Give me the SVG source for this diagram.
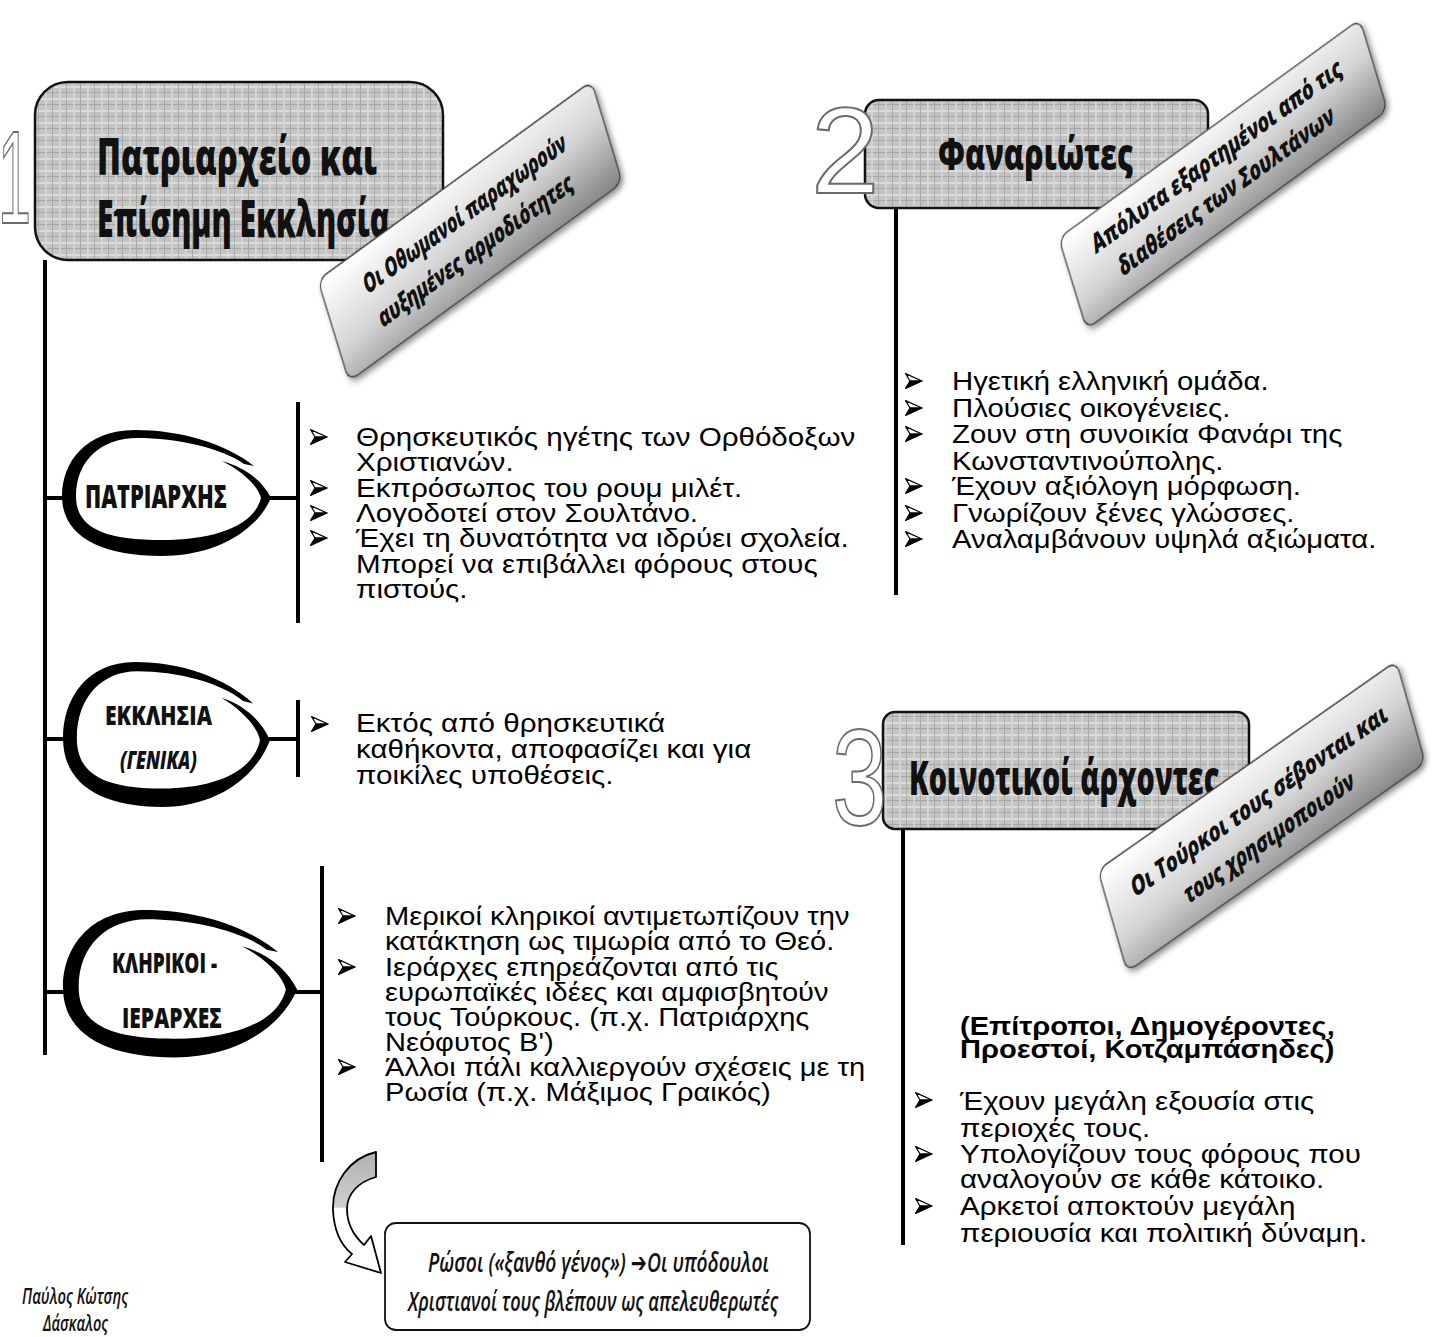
<svg xmlns="http://www.w3.org/2000/svg" width="1444" height="1337" viewBox="0 0 1444 1337">
<defs>
<style>
.hd{font-family:"Open Sans","DejaVu Sans",sans-serif;font-weight:800;fill:#111;}
.num{font-family:"Liberation Sans",Arial,sans-serif;fill:#fff;stroke:#6a6a6a;stroke-width:2;}
.lb{font-family:"Open Sans","DejaVu Sans",sans-serif;font-weight:800;font-size:25px;fill:#111;}
.nd{font-family:"Open Sans","DejaVu Sans",sans-serif;font-weight:800;fill:#111;}
.tx{font-family:"Liberation Sans",Arial,sans-serif;font-size:25.5px;fill:#000;}
.bd{font-weight:700;}
.it{font-family:"Open Sans","DejaVu Sans",sans-serif;font-style:italic;font-weight:600;fill:#111;}
.ln{stroke:#000;stroke-width:4;fill:none;}
.hbox{fill:url(#burlap);stroke:#111;stroke-width:2.5;}
.lbox{fill:url(#lg);stroke:#333;stroke-width:1.2;}
</style>
<pattern id="burlap" width="14" height="12" patternUnits="userSpaceOnUse">
<rect width="14" height="12" fill="#c4c4c4"/>
<rect x="0" y="2" width="14" height="2" fill="#dcdcdc"/>
<rect x="0" y="8" width="14" height="1" fill="#a8a8a8"/>
<rect x="3" y="0" width="2" height="12" fill="#d8d8d8" opacity="0.8"/>
<rect x="10" y="0" width="1" height="12" fill="#a4a4a4" opacity="0.8"/>
</pattern>
<linearGradient id="lg" x1="0.1" y1="0" x2="0.55" y2="1.2">
<stop offset="0" stop-color="#ffffff"/>
<stop offset="0.5" stop-color="#d4d4d4"/>
<stop offset="1" stop-color="#808080"/>
</linearGradient>
<linearGradient id="ag" gradientUnits="userSpaceOnUse" x1="0" y1="1150" x2="0" y2="1280">
<stop offset="0" stop-color="#b0b0b0"/>
<stop offset="0.44" stop-color="#cfcfcf"/>
<stop offset="0.45" stop-color="#ffffff"/>
<stop offset="1" stop-color="#ffffff"/>
</linearGradient>
<filter id="sh" x="-10%" y="-20%" width="130%" height="150%">
<feDropShadow dx="2" dy="4" stdDeviation="3" flood-color="#000" flood-opacity="0.45"/>
</filter>
<path id="blob" d="M192,36 C163,13 118,0 73,0 C23,0 0,33 0,66 C0,106 38,126 100,126 C155,126 195,100 209,68 C200,50 182,37 160,31 C178,40 196,55 199,68 C192,96 152,110 100,110 C42,110 14,98 14,66 C14,30 40,8 75,8 C115,8 160,18 182,34 Z" fill="#000"/>
<g id="bul">
<path d="M0.6,0.6 L17,8 L5,8 Z" fill="#fff" stroke="#000" stroke-width="1.2" stroke-linejoin="round"/>
<path d="M5,8 L17,8 L0.6,15.4 Z" fill="#000" stroke="#000" stroke-width="1.2" stroke-linejoin="round"/>
</g>
</defs>

<rect width="1444" height="1337" fill="#fff"/>

<!-- Section headers -->
<g id="header1">
<rect class="hbox" x="35" y="82" width="408" height="178" rx="33"/>
<text class="hd" x="97" y="175" font-size="52" textLength="280" lengthAdjust="spacingAndGlyphs">Πατριαρχείο και</text>
<text class="hd" x="97" y="237" font-size="52" textLength="293" lengthAdjust="spacingAndGlyphs">Επίσημη Εκκλησία</text>
<text class="num" transform="translate(-2,223) scale(0.45,1)" font-size="132" stroke-width="1.6">1</text>
</g>

<g id="header2">
<rect class="hbox" x="865" y="100" width="343" height="108" rx="14"/>
<text class="hd" x="938" y="170" font-size="44" textLength="195" lengthAdjust="spacingAndGlyphs">Φαναριώτες</text>
<text class="num" transform="translate(811,193)" font-size="123" stroke-width="1.6">2</text>
</g>

<g id="header3">
<rect class="hbox" x="883" y="712" width="366" height="117" rx="12"/>
<text class="hd" x="909" y="795" font-size="48" textLength="310" lengthAdjust="spacingAndGlyphs">Κοινοτικοί άρχοντες</text>
<text class="num" transform="translate(832,825) scale(0.72,1)" font-size="138" stroke-width="1.6">3</text>
</g>

<!-- Connectors -->
<g id="connectors">
<line class="ln" x1="45" y1="260" x2="45" y2="1055"/>
<line class="ln" x1="45" y1="498" x2="64" y2="498"/>
<line class="ln" x1="268" y1="498" x2="298" y2="498"/>
<line class="ln" x1="298" y1="402" x2="298" y2="623"/>
<line class="ln" x1="45" y1="739" x2="64" y2="739"/>
<line class="ln" x1="268" y1="739" x2="298" y2="739"/>
<line class="ln" x1="298" y1="700" x2="298" y2="777"/>
<line class="ln" x1="45" y1="992" x2="64" y2="992"/>
<line class="ln" x1="294" y1="992" x2="322" y2="992"/>
<line class="ln" x1="322" y1="866" x2="322" y2="1162"/>
<line class="ln" x1="896" y1="208" x2="896" y2="595"/>
<line class="ln" x1="903" y1="829" x2="903" y2="1245"/>
<path id="curved-arrow" d="M376,1152 C350,1158 332,1182 333,1210 C334,1232 342,1246 352,1254 L345,1262 L381,1273 L371,1236 L364,1245 C354,1236 347,1224 347,1209 C347,1194 358,1182 376,1177 Z" fill="url(#ag)" stroke="#000" stroke-width="1.8" stroke-linejoin="round"/>
</g>

<!-- Tilted labels -->
<g id="label1" transform="translate(318,280) rotate(-36) skewX(-19)">
<rect class="lbox" x="0" y="0" width="338" height="100" rx="10" filter="url(#sh)"/>
<text class="lb" x="45" y="41" textLength="248" lengthAdjust="spacingAndGlyphs">Οι Οθωμανοί παραχωρούν</text>
<text class="lb" x="50" y="77" textLength="237" lengthAdjust="spacingAndGlyphs">αυξημένες αρμοδιότητες</text>
</g>

<g id="label2" transform="translate(1060,242) rotate(-36) skewX(-19)">
<rect class="lbox" x="0" y="-4" width="372" height="90" rx="10" filter="url(#sh)"/>
<text class="lb" x="32" y="31" textLength="306" lengthAdjust="spacingAndGlyphs">Απόλυτα εξαρτημένοι από τις</text>
<text class="lb" x="52" y="65" textLength="264" lengthAdjust="spacingAndGlyphs">διαθέσεις των Σουλτάνων</text>
</g>

<g id="label3" transform="translate(1098,870) rotate(-35) skewX(-19)">
<rect class="lbox" x="0" y="0" width="364" height="100" rx="10" filter="url(#sh)"/>
<text class="lb" x="29" y="44" textLength="310" lengthAdjust="spacingAndGlyphs">Οι Τούρκοι τους σέβονται και</text>
<text class="lb" x="81" y="80" textLength="205" lengthAdjust="spacingAndGlyphs">τους χρησιμοποιούν</text>
</g>

<!-- Nodes -->
<g id="node-patriarchis">
<use href="#blob" transform="translate(62,430)"/>
<text class="nd" x="85" y="508" font-size="32" textLength="142" lengthAdjust="spacingAndGlyphs">ΠΑΤΡΙΑΡΧΗΣ</text>
</g>

<g id="node-ekklisia">
<use href="#blob" transform="translate(63,662) scale(0.99,1.15)"/>
<text class="nd" x="105" y="725" font-size="26" textLength="107" lengthAdjust="spacingAndGlyphs">ΕΚΚΛΗΣΙΑ</text>
<text class="nd" x="120" y="769" font-size="24" font-style="italic" textLength="77" lengthAdjust="spacingAndGlyphs">(ΓΕΝΙΚΑ)</text>
</g>

<g id="node-klirikoi">
<use href="#blob" transform="translate(63,910) scale(1.12,1.17)"/>
<text class="nd" x="112" y="973" font-size="29" textLength="105" lengthAdjust="spacingAndGlyphs">ΚΛΗΡΙΚΟΙ -</text>
<text class="nd" x="122" y="1028" font-size="29" textLength="100" lengthAdjust="spacingAndGlyphs">ΙΕΡΑΡΧΕΣ</text>
</g>

<!-- Lists -->
<g id="list-patriarchis">
<use href="#bul" x="310" y="429"/>
<use href="#bul" x="310" y="480"/>
<use href="#bul" x="310" y="505"/>
<use href="#bul" x="310" y="530"/>
<g transform="translate(356,0) scale(1.16,1)">
<text class="tx" x="0" y="446">Θρησκευτικός ηγέτης των Ορθόδοξων</text>
<text class="tx" x="0" y="471">Χριστιανών.</text>
<text class="tx" x="0" y="497">Εκπρόσωπος του ρουμ μιλέτ.</text>
<text class="tx" x="0" y="522">Λογοδοτεί στον Σουλτάνο.</text>
<text class="tx" x="0" y="547">Έχει τη δυνατότητα να ιδρύει σχολεία.</text>
<text class="tx" x="0" y="573">Μπορεί να επιβάλλει φόρους στους</text>
<text class="tx" x="0" y="598">πιστούς.</text>
</g>
</g>

<g id="list-ekklisia">
<use href="#bul" x="311" y="716"/>
<g transform="translate(356,0) scale(1.16,1)">
<text class="tx" x="0" y="732">Εκτός από θρησκευτικά</text>
<text class="tx" x="0" y="758">καθήκοντα, αποφασίζει και για</text>
<text class="tx" x="0" y="784">ποικίλες υποθέσεις.</text>
</g>
</g>

<g id="list-klirikoi">
<use href="#bul" x="338" y="908"/>
<use href="#bul" x="338" y="959"/>
<use href="#bul" x="338" y="1059"/>
<g transform="translate(385,0) scale(1.14,1)">
<text class="tx" x="0" y="925">Μερικοί κληρικοί αντιμετωπίζουν την</text>
<text class="tx" x="0" y="950">κατάκτηση ως τιμωρία από το Θεό.</text>
<text class="tx" x="0" y="976">Ιεράρχες επηρεάζονται από τις</text>
<text class="tx" x="0" y="1001">ευρωπαϊκές ιδέες και αμφισβητούν</text>
<text class="tx" x="0" y="1026">τους Τούρκους. (π.χ. Πατριάρχης</text>
<text class="tx" x="0" y="1051">Νεόφυτος Β')</text>
<text class="tx" x="0" y="1076">Άλλοι πάλι καλλιεργούν σχέσεις με τη</text>
<text class="tx" x="0" y="1101">Ρωσία (π.χ. Μάξιμος Γραικός)</text>
</g>
</g>

<g id="list-fanariotes">
<use href="#bul" x="905" y="373"/>
<use href="#bul" x="905" y="400"/>
<use href="#bul" x="905" y="426"/>
<use href="#bul" x="905" y="478"/>
<use href="#bul" x="905" y="505"/>
<use href="#bul" x="905" y="531"/>
<g transform="translate(952,0) scale(1.15,1)">
<text class="tx" x="0" y="390">Ηγετική ελληνική ομάδα.</text>
<text class="tx" x="0" y="417">Πλούσιες οικογένειες.</text>
<text class="tx" x="0" y="443">Ζουν στη συνοικία Φανάρι της</text>
<text class="tx" x="0" y="470">Κωνσταντινούπολης.</text>
<text class="tx" x="0" y="495">Έχουν αξιόλογη μόρφωση.</text>
<text class="tx" x="0" y="522">Γνωρίζουν ξένες γλώσσες.</text>
<text class="tx" x="0" y="548">Αναλαμβάνουν υψηλά αξιώματα.</text>
</g>
</g>

<g id="list-archontes">
<use href="#bul" x="915" y="1092"/>
<use href="#bul" x="915" y="1146"/>
<use href="#bul" x="915" y="1198"/>
<g transform="translate(960,0) scale(1.14,1)">
<text class="tx bd" x="0" y="1035">(Επίτροποι, Δημογέροντες,</text>
<text class="tx bd" x="0" y="1058">Προεστοί, Κοτζαμπάσηδες)</text>
</g>
<g transform="translate(960,0) scale(1.16,1)">
<text class="tx" x="0" y="1110">Έχουν μεγάλη εξουσία στις</text>
<text class="tx" x="0" y="1137">περιοχές τους.</text>
<text class="tx" x="0" y="1163">Υπολογίζουν τους φόρους που</text>
<text class="tx" x="0" y="1188">αναλογούν σε κάθε κάτοικο.</text>
<text class="tx" x="0" y="1215">Αρκετοί αποκτούν μεγάλη</text>
<text class="tx" x="0" y="1242">περιουσία και πολιτική δύναμη.</text>
</g>
</g>

<g id="note-rosoi">
<rect x="385" y="1223" width="425" height="107" rx="11" fill="#fff" stroke="#111" stroke-width="1.8"/>
<text class="it" x="428" y="1272" font-size="27" textLength="341" lengthAdjust="spacingAndGlyphs">Ρώσοι («ξανθό γένος») ➔Οι υπόδουλοι</text>
<text class="it" x="408" y="1311" font-size="27" textLength="370" lengthAdjust="spacingAndGlyphs">Χριστιανοί τους βλέπουν ως απελευθερωτές</text>
</g>

<g id="author">
<text class="it" x="22" y="1304" font-size="22" textLength="106" lengthAdjust="spacingAndGlyphs">Παύλος Κώτσης</text>
<text class="it" x="43" y="1331" font-size="22" textLength="65" lengthAdjust="spacingAndGlyphs">Δάσκαλος</text>
</g>
</svg>
